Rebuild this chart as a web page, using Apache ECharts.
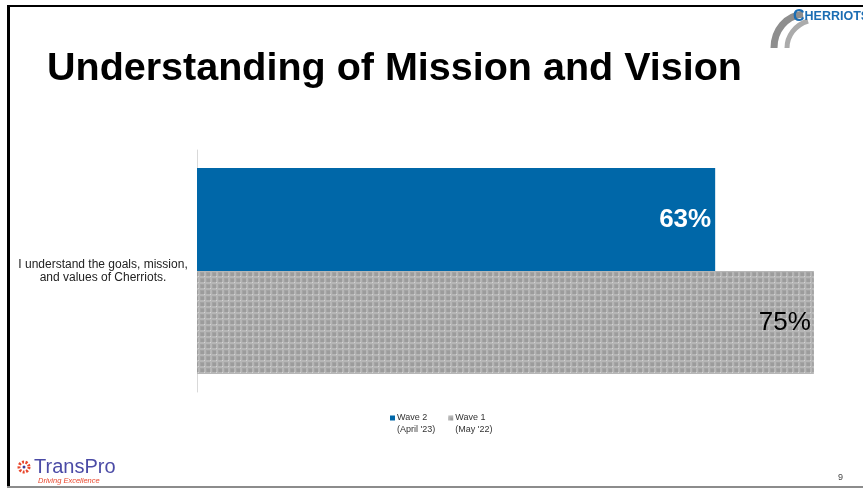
<!DOCTYPE html>
<html>
<head>
<meta charset="utf-8">
<script src="https://cdn.jsdelivr.net/npm/echarts@6/dist/echarts.min.js"></script>
<style>
  html, body { margin: 0; padding: 0; background: #fff; }
  #chart { width: 863px; height: 489px; }
</style>
</head>
<body>
<div id="chart"></div>
<script>
// Survey statement and results (% agree) per wave
const categories = ['I understand the goals, mission,\nand values of Cherriots.'];
const wave2Name = 'Wave 2\n(April \'23)';
const wave1Name = 'Wave 1\n(May \'22)';
const wave2Values = [63];
const wave1Values = [75];

// Fine checkered grey fill used for the earlier wave
function makeGreyPattern() {
  const c = document.createElement('canvas');
  c.width = 6; c.height = 6;
  const g = c.getContext('2d');
  g.fillStyle = '#a4a4a4';
  g.fillRect(0, 0, 6, 6);
  g.fillStyle = '#b6b6b6';
  g.fillRect(0, 0, 6, 2);
  g.fillRect(0, 0, 2, 6);
  g.fillStyle = '#9c9c9c';
  g.fillRect(3, 3, 3, 3);
  g.fillStyle = '#d4d4d4';
  g.fillRect(0, 0, 1, 1);
  return c;
}
const greyPattern = { image: makeGreyPattern(), repeat: 'repeat' };

// legend marker: small square sitting at the top of a taller box,
// so it lines up with the first line of the two-line legend text
const legendIcon = 'path://M0,0H5V5H0Z M0,17H0.01V17.01H0Z';

const FONT = '"Liberation Sans", Arial, sans-serif';

const chart = echarts.init(document.getElementById('chart'), null, { renderer: 'canvas' });

const option = {
  backgroundColor: '#ffffff',
  animation: false,
  grid: { left: 197, top: 150, width: 658, height: 242, containLabel: false },
  xAxis: {
    type: 'value', min: 0, max: 80,
    show: false
  },
  yAxis: {
    type: 'category',
    data: categories,
    axisLine: { show: true, lineStyle: { color: '#d9d9d9', width: 1 } },
    axisTick: { show: false },
    axisLabel: {
      margin: 94, align: 'center',
      fontFamily: FONT,
      fontSize: 12, color: '#222', lineHeight: 13
    }
  },
  legend: {
    data: [wave2Name, wave1Name],
    left: 385, top: 407,
    itemWidth: 5, itemHeight: 17, itemGap: 13,
    icon: legendIcon,
    textStyle: {
      fontFamily: FONT,
      fontSize: 9, color: '#333', lineHeight: 12,
      padding: [0, 0, 0, -3]
    }
  },
  series: [
    {
      name: wave2Name, type: 'bar',
      data: wave2Values,
      barWidth: 103, barGap: '0%',
      itemStyle: { color: '#0067a8' },
      label: {
        show: true, position: 'insideRight', offset: [1, 0],
        formatter: '{c}%',
        fontFamily: FONT,
        fontSize: 26, fontWeight: 'bold', color: '#fff'
      }
    },
    {
      name: wave1Name, type: 'bar',
      data: wave1Values,
      barWidth: 103, barGap: '0%',
      itemStyle: { color: greyPattern },
      label: {
        show: true, position: 'insideRight', offset: [2, 0],
        formatter: '{c}%',
        fontFamily: FONT,
        fontSize: 26, color: '#000'
      }
    }
  ],
  graphic: [
    // slide frame
    { type: 'rect', shape: { x: 7, y: 5, width: 3, height: 482 }, style: { fill: '#000' } },
    { type: 'rect', shape: { x: 7, y: 5, width: 856, height: 2 }, style: { fill: '#000' } },
    { type: 'rect', shape: { x: 7, y: 486, width: 856, height: 2 }, style: { fill: '#8c8c8c' } },
    // title
    {
      type: 'text', left: 47, top: 49,
      style: {
        text: 'Understanding of Mission and Vision',
        font: 'bold 39.5px ' + FONT,
        fill: '#000'
      }
    },
    // Cherriots logo swoosh
    { type: 'bezierCurve',
      shape: { x1: 803, y1: 14, cpx1: 786, cpy1: 16, cpx2: 774, cpy2: 30, x2: 774, y2: 48 },
      style: { stroke: '#8e8e8e', lineWidth: 7, fill: null } },
    { type: 'bezierCurve',
      shape: { x1: 808, y1: 21, cpx1: 795, cpy1: 25, cpx2: 787, cpy2: 36, x2: 787, y2: 48 },
      style: { stroke: '#ababab', lineWidth: 5, fill: null } },
    {
      type: 'text', left: 793, top: 9,
      style: {
        rich: {
          a: { font: 'bold 16px ' + FONT, fill: '#1b6db3' },
          b: { font: 'bold 12.5px ' + FONT, fill: '#1b6db3' }
        },
        text: '{a|C}{b|HERRIOTS}'
      }
    },
    // TransPro logo
    { type: 'circle', shape: { cx: 24, cy: 467, r: 5 },
      style: { fill: null, stroke: '#e8462c', lineWidth: 3, lineDash: [2, 1.5] } },
    { type: 'circle', shape: { cx: 24, cy: 467, r: 1.5 }, style: { fill: '#3b3b9a' } },
    {
      type: 'text', left: 34, top: 457,
      style: { text: 'TransPro', font: '20px ' + FONT, fill: '#4b4ba6' }
    },
    {
      type: 'text', left: 38, top: 477,
      style: { text: 'Driving Excellence', font: 'italic 7.5px ' + FONT, fill: '#e8462c' }
    },
    // page number
    {
      type: 'text', left: 838, top: 473,
      style: { text: '9', font: '9px ' + FONT, fill: '#444' }
    }
  ]
};

chart.setOption(option);
</script>
</body>
</html>
